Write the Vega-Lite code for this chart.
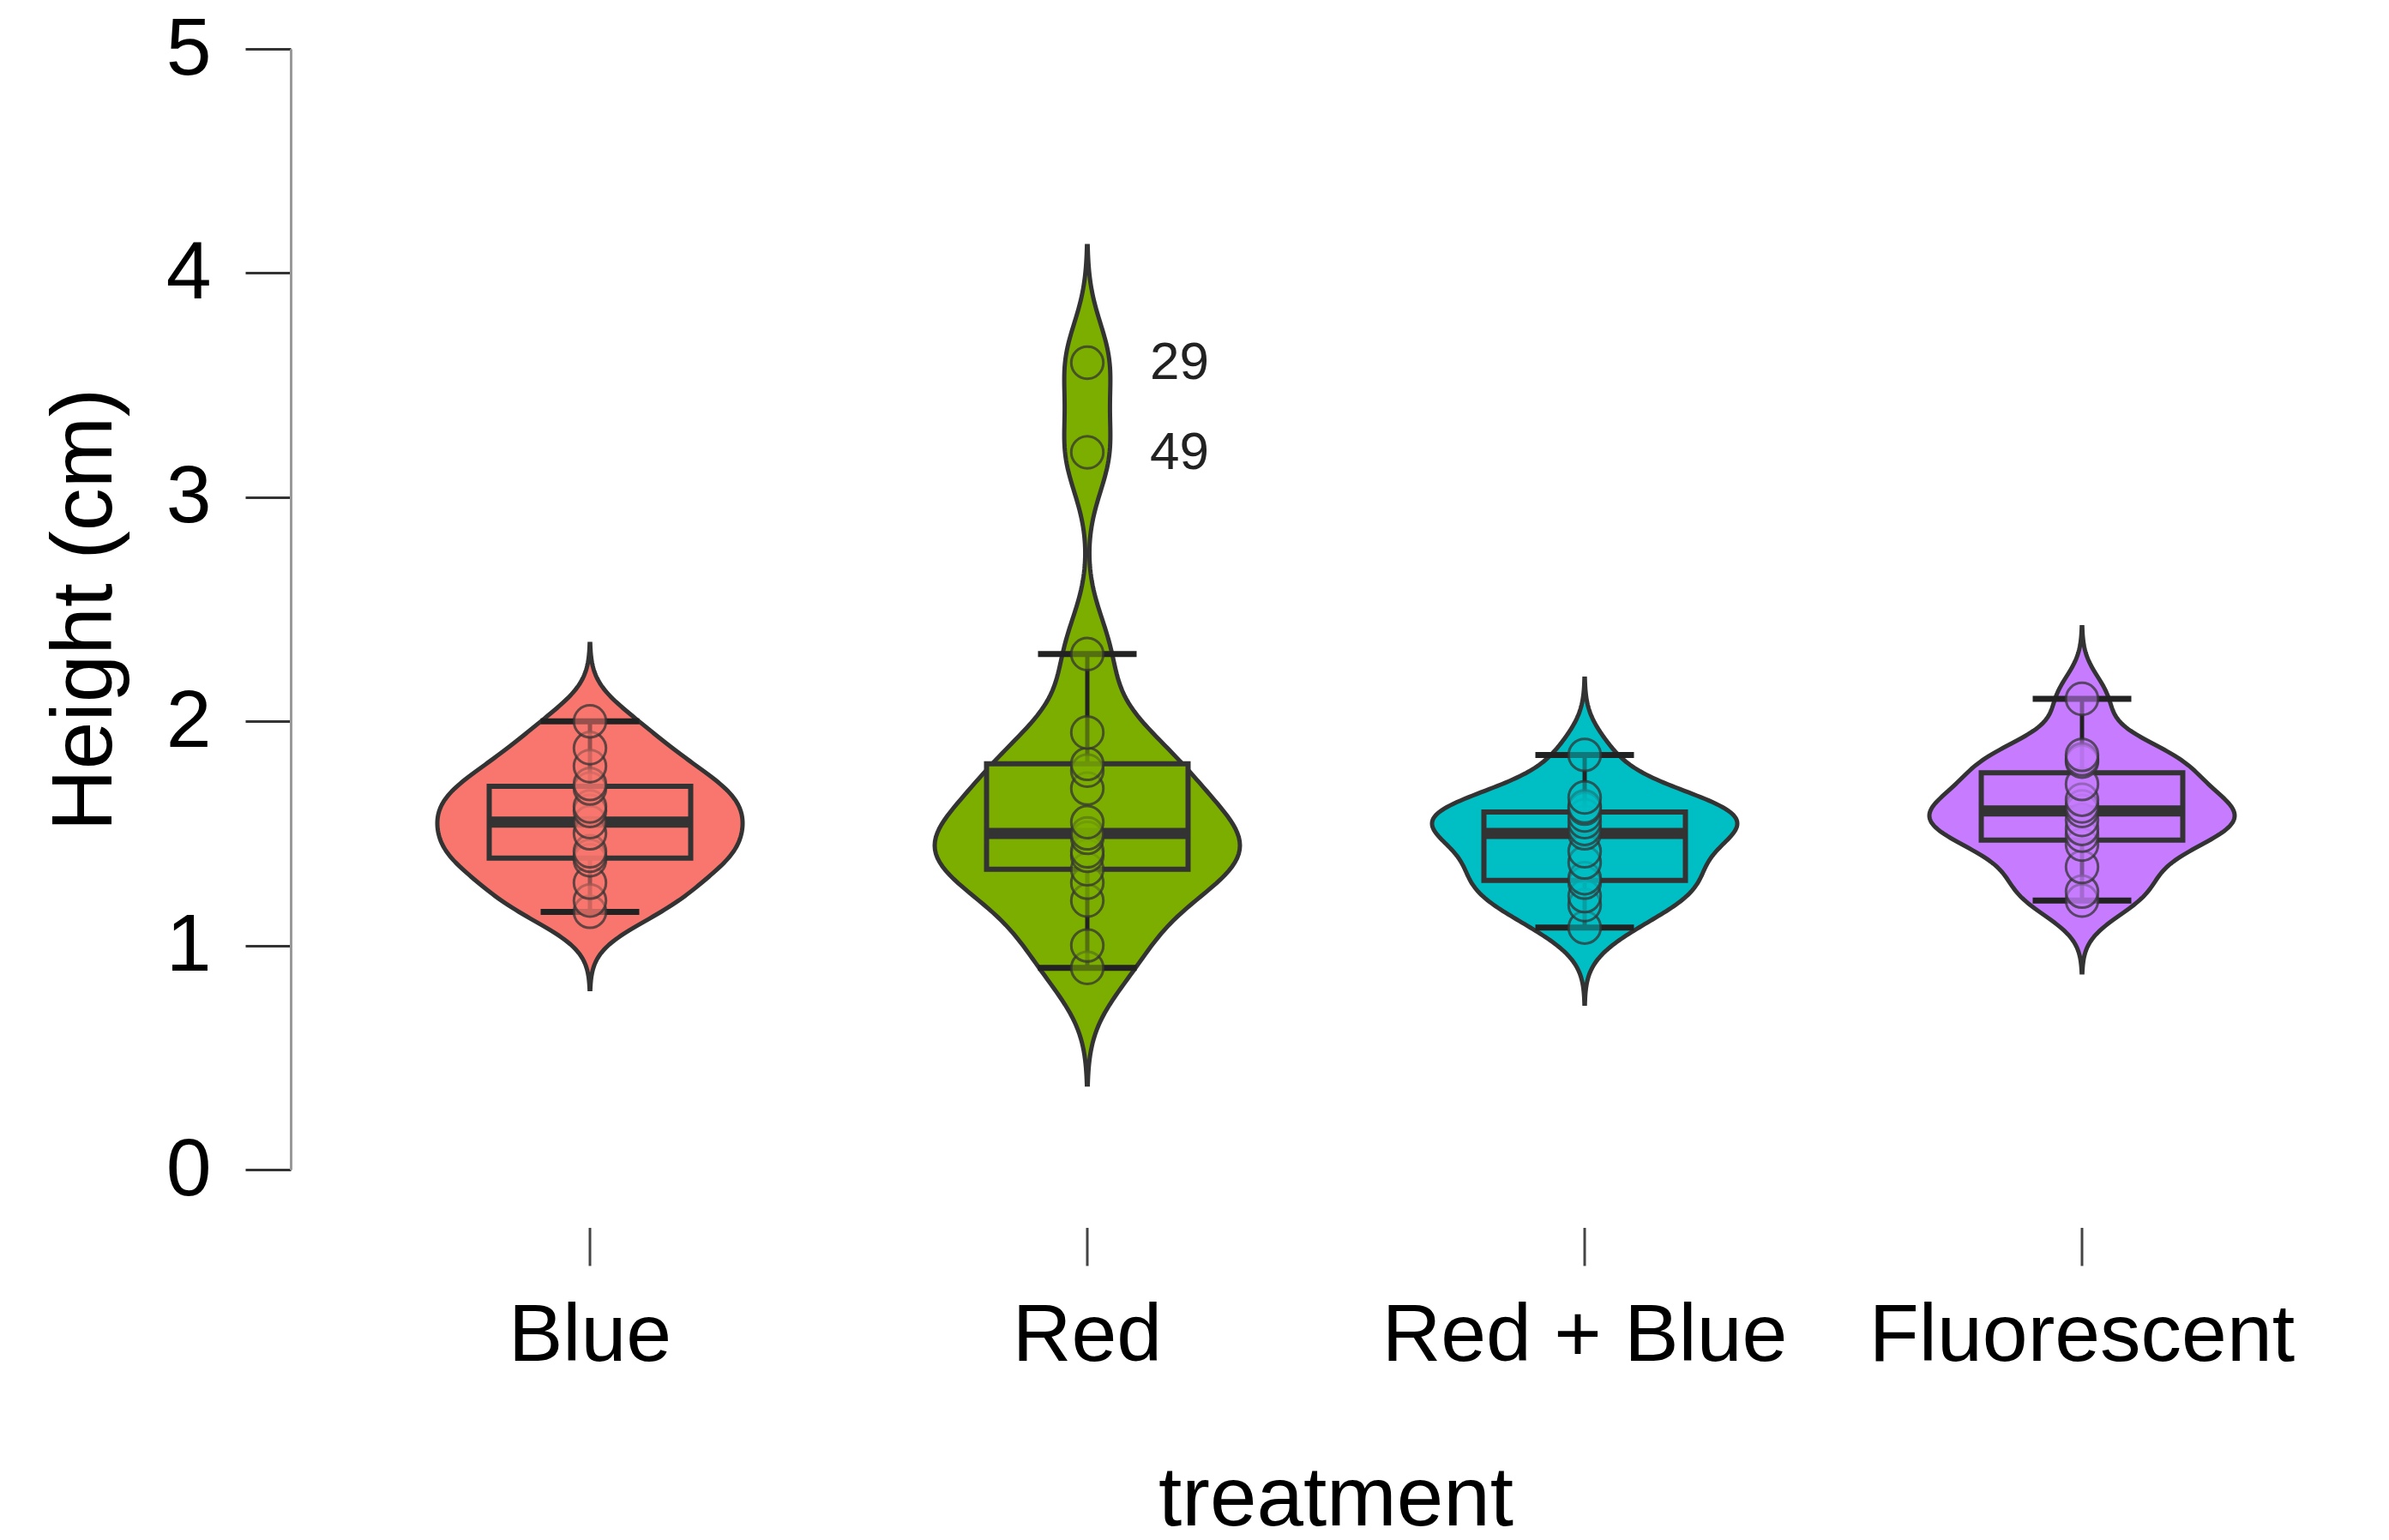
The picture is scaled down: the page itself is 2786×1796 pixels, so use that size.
{
  "$schema": "https://vega.github.io/schema/vega-lite/v6.json",
  "autosize": {"type": "pad"},
  "padding": {"left": 49, "top": 10, "right": 20, "bottom": 20},
  "bounds": "flush",
  "background": "white",
  "data": {
    "values": [
      {"treatment": "Blue", "height": 1.15},
      {"treatment": "Blue", "height": 1.20},
      {"treatment": "Blue", "height": 1.28},
      {"treatment": "Blue", "height": 1.38},
      {"treatment": "Blue", "height": 1.40},
      {"treatment": "Blue", "height": 1.42},
      {"treatment": "Blue", "height": 1.50},
      {"treatment": "Blue", "height": 1.55},
      {"treatment": "Blue", "height": 1.60},
      {"treatment": "Blue", "height": 1.62},
      {"treatment": "Blue", "height": 1.70},
      {"treatment": "Blue", "height": 1.72},
      {"treatment": "Blue", "height": 1.80},
      {"treatment": "Blue", "height": 1.88},
      {"treatment": "Blue", "height": 2.00},
      {"treatment": "Red", "height": 0.90},
      {"treatment": "Red", "height": 1.00},
      {"treatment": "Red", "height": 1.20},
      {"treatment": "Red", "height": 1.28},
      {"treatment": "Red", "height": 1.34},
      {"treatment": "Red", "height": 1.40},
      {"treatment": "Red", "height": 1.42},
      {"treatment": "Red", "height": 1.48},
      {"treatment": "Red", "height": 1.50},
      {"treatment": "Red", "height": 1.55},
      {"treatment": "Red", "height": 1.70},
      {"treatment": "Red", "height": 1.78},
      {"treatment": "Red", "height": 1.81},
      {"treatment": "Red", "height": 1.95},
      {"treatment": "Red", "height": 2.30},
      {"treatment": "Red", "height": 3.20, "label": "49"},
      {"treatment": "Red", "height": 3.60, "label": "29"},
      {"treatment": "Red + Blue", "height": 1.08},
      {"treatment": "Red + Blue", "height": 1.18},
      {"treatment": "Red + Blue", "height": 1.22},
      {"treatment": "Red + Blue", "height": 1.28},
      {"treatment": "Red + Blue", "height": 1.30},
      {"treatment": "Red + Blue", "height": 1.37},
      {"treatment": "Red + Blue", "height": 1.42},
      {"treatment": "Red + Blue", "height": 1.50},
      {"treatment": "Red + Blue", "height": 1.52},
      {"treatment": "Red + Blue", "height": 1.55},
      {"treatment": "Red + Blue", "height": 1.58},
      {"treatment": "Red + Blue", "height": 1.61},
      {"treatment": "Red + Blue", "height": 1.62},
      {"treatment": "Red + Blue", "height": 1.66},
      {"treatment": "Red + Blue", "height": 1.85},
      {"treatment": "Fluorescent", "height": 1.20},
      {"treatment": "Fluorescent", "height": 1.24},
      {"treatment": "Fluorescent", "height": 1.35},
      {"treatment": "Fluorescent", "height": 1.45},
      {"treatment": "Fluorescent", "height": 1.49},
      {"treatment": "Fluorescent", "height": 1.52},
      {"treatment": "Fluorescent", "height": 1.56},
      {"treatment": "Fluorescent", "height": 1.60},
      {"treatment": "Fluorescent", "height": 1.62},
      {"treatment": "Fluorescent", "height": 1.65},
      {"treatment": "Fluorescent", "height": 1.72},
      {"treatment": "Fluorescent", "height": 1.82},
      {"treatment": "Fluorescent", "height": 1.83},
      {"treatment": "Fluorescent", "height": 1.85},
      {"treatment": "Fluorescent", "height": 2.10}
    ]
  },
  "facet": {
    "column": {
      "field": "treatment",
      "type": "nominal",
      "sort": ["Blue", "Red", "Red + Blue", "Fluorescent"],
      "title": "treatment",
      "header": {
        "labelOrient": "bottom",
        "titleOrient": "bottom",
        "labelFont": "Liberation Sans",
        "labelFontSize": 95,
        "labelColor": "#000000",
        "labelPadding": 148,
        "titleFont": "Liberation Sans",
        "titleFontSize": 98,
        "titleFontWeight": "normal",
        "titleColor": "#000000",
        "titlePadding": 86
      }
    }
  },
  "spacing": 0,
  "resolve": {"scale": {"x": "independent"}},
  "spec": {
    "width": 580,
    "height": 1307,
    "layer": [
      {
        "transform": [
          {"filter": {"field": "treatment", "equal": "Blue"}},
          {"density": "height", "groupby": ["treatment"], "bandwidth": 0.115, "extent": [0.805, 2.345], "steps": 200}
        ],
        "mark": {"type": "area", "orient": "horizontal", "stroke": "#333333", "strokeWidth": 5, "fillOpacity": 1},
        "encoding": {
          "y": {"field": "value", "type": "quantitative", "title": "Height (cm)", "axis": {"values": [0, 1, 2, 3, 4, 5]}, "scale": {"domain": [0, 5], "nice": false, "zero": false}},
          "x": {"field": "density", "type": "quantitative", "stack": "center", "impute": null, "axis": null, "scale": {"nice": false, "zero": true, "padding": 112}},
          "color": {"field": "treatment", "type": "nominal", "legend": null, "scale": {"domain": ["Blue", "Red", "Red + Blue", "Fluorescent"], "range": ["#F8766D", "#7CAE00", "#00BFC4", "#C77CFF"]}}
        }
      },
      {
        "transform": [
          {"filter": {"field": "treatment", "equal": "Red"}},
          {"density": "height", "groupby": ["treatment"], "bandwidth": 0.185, "extent": [0.38, 4.12], "steps": 200}
        ],
        "mark": {"type": "area", "orient": "horizontal", "stroke": "#333333", "strokeWidth": 5, "fillOpacity": 1},
        "encoding": {
          "y": {"field": "value", "type": "quantitative", "title": "Height (cm)", "axis": {"values": [0, 1, 2, 3, 4, 5]}, "scale": {"domain": [0, 5], "nice": false, "zero": false}},
          "x": {"field": "density", "type": "quantitative", "stack": "center", "impute": null, "axis": null, "scale": {"nice": false, "zero": true, "padding": 112}},
          "color": {"field": "treatment", "type": "nominal", "legend": null, "scale": {"domain": ["Blue", "Red", "Red + Blue", "Fluorescent"], "range": ["#F8766D", "#7CAE00", "#00BFC4", "#C77CFF"]}}
        }
      },
      {
        "transform": [
          {"filter": {"field": "treatment", "equal": "Red + Blue"}},
          {"density": "height", "groupby": ["treatment"], "bandwidth": 0.113, "extent": [0.74, 2.19], "steps": 200}
        ],
        "mark": {"type": "area", "orient": "horizontal", "stroke": "#333333", "strokeWidth": 5, "fillOpacity": 1},
        "encoding": {
          "y": {"field": "value", "type": "quantitative", "title": "Height (cm)", "axis": {"values": [0, 1, 2, 3, 4, 5]}, "scale": {"domain": [0, 5], "nice": false, "zero": false}},
          "x": {"field": "density", "type": "quantitative", "stack": "center", "impute": null, "axis": null, "scale": {"nice": false, "zero": true, "padding": 112}},
          "color": {"field": "treatment", "type": "nominal", "legend": null, "scale": {"domain": ["Blue", "Red", "Red + Blue", "Fluorescent"], "range": ["#F8766D", "#7CAE00", "#00BFC4", "#C77CFF"]}}
        }
      },
      {
        "transform": [
          {"filter": {"field": "treatment", "equal": "Fluorescent"}},
          {"density": "height", "groupby": ["treatment"], "bandwidth": 0.107, "extent": [0.88, 2.42], "steps": 200}
        ],
        "mark": {"type": "area", "orient": "horizontal", "stroke": "#333333", "strokeWidth": 5, "fillOpacity": 1},
        "encoding": {
          "y": {"field": "value", "type": "quantitative", "title": "Height (cm)", "axis": {"values": [0, 1, 2, 3, 4, 5]}, "scale": {"domain": [0, 5], "nice": false, "zero": false}},
          "x": {"field": "density", "type": "quantitative", "stack": "center", "impute": null, "axis": null, "scale": {"nice": false, "zero": true, "padding": 112}},
          "color": {"field": "treatment", "type": "nominal", "legend": null, "scale": {"domain": ["Blue", "Red", "Red + Blue", "Fluorescent"], "range": ["#F8766D", "#7CAE00", "#00BFC4", "#C77CFF"]}}
        }
      },
      {
        "mark": {
          "type": "boxplot",
          "extent": 1.5,
          "size": 235,
          "outliers": false,
          "box": {"stroke": "#333333", "strokeWidth": 6},
          "median": {"color": "#333333", "thickness": 13, "opacity": 1},
          "rule": {"color": "#222222", "strokeWidth": 5},
          "ticks": {"color": "#222222", "size": 115, "thickness": 7, "opacity": 1}
        },
        "encoding": {
          "y": {"field": "height", "type": "quantitative", "title": "Height (cm)", "axis": {"values": [0, 1, 2, 3, 4, 5]}, "scale": {"domain": [0, 5], "nice": false, "zero": false}},
          "color": {"field": "treatment", "type": "nominal", "legend": null, "scale": {"domain": ["Blue", "Red", "Red + Blue", "Fluorescent"], "range": ["#F8766D", "#7CAE00", "#00BFC4", "#C77CFF"]}}
        }
      },
      {
        "mark": {"type": "circle", "size": 1400, "fillOpacity": 0.55, "stroke": "#333333", "strokeOpacity": 0.75, "strokeWidth": 3},
        "encoding": {
          "y": {"field": "height", "type": "quantitative", "title": "Height (cm)", "axis": {"values": [0, 1, 2, 3, 4, 5]}, "scale": {"domain": [0, 5], "nice": false, "zero": false}},
          "color": {"field": "treatment", "type": "nominal", "legend": null, "scale": {"domain": ["Blue", "Red", "Red + Blue", "Fluorescent"], "range": ["#F8766D", "#7CAE00", "#00BFC4", "#C77CFF"]}}
        }
      },
      {
        "transform": [{"filter": "isValid(datum.label)"}],
        "mark": {"type": "text", "align": "left", "baseline": "middle", "dx": 73, "fontSize": 62, "font": "Liberation Sans", "color": "#222222"},
        "encoding": {
          "y": {"field": "height", "type": "quantitative", "title": "Height (cm)", "axis": {"values": [0, 1, 2, 3, 4, 5]}, "scale": {"domain": [0, 5], "nice": false, "zero": false}},
          "text": {"field": "label"}
        }
      },
      {
        "transform": [{"aggregate": [{"op": "count", "as": "n"}], "groupby": ["treatment"]}],
        "mark": {"type": "rule", "clip": false, "color": "#444444", "strokeWidth": 3},
        "encoding": {
          "y": {"datum": -0.26, "title": "Height (cm)", "axis": {"values": [0, 1, 2, 3, 4, 5]}, "scale": {"domain": [0, 5], "nice": false, "zero": false}},
          "y2": {"datum": -0.43}
        }
      }
    ]
  },
  "config": {
    "view": {"stroke": null},
    "font": "Liberation Sans",
    "axisY": {
      "grid": false,
      "offset": 59,
      "domainColor": "#999999",
      "domainWidth": 3,
      "tickColor": "#333333",
      "tickWidth": 3,
      "tickSize": 53,
      "labelFont": "Liberation Sans",
      "labelFontSize": 95,
      "labelColor": "#000000",
      "labelPadding": 40,
      "titleFont": "Liberation Sans",
      "titleFontSize": 100,
      "titleFontWeight": "normal",
      "titleColor": "#000000",
      "titlePadding": 43
    }
  }
}
